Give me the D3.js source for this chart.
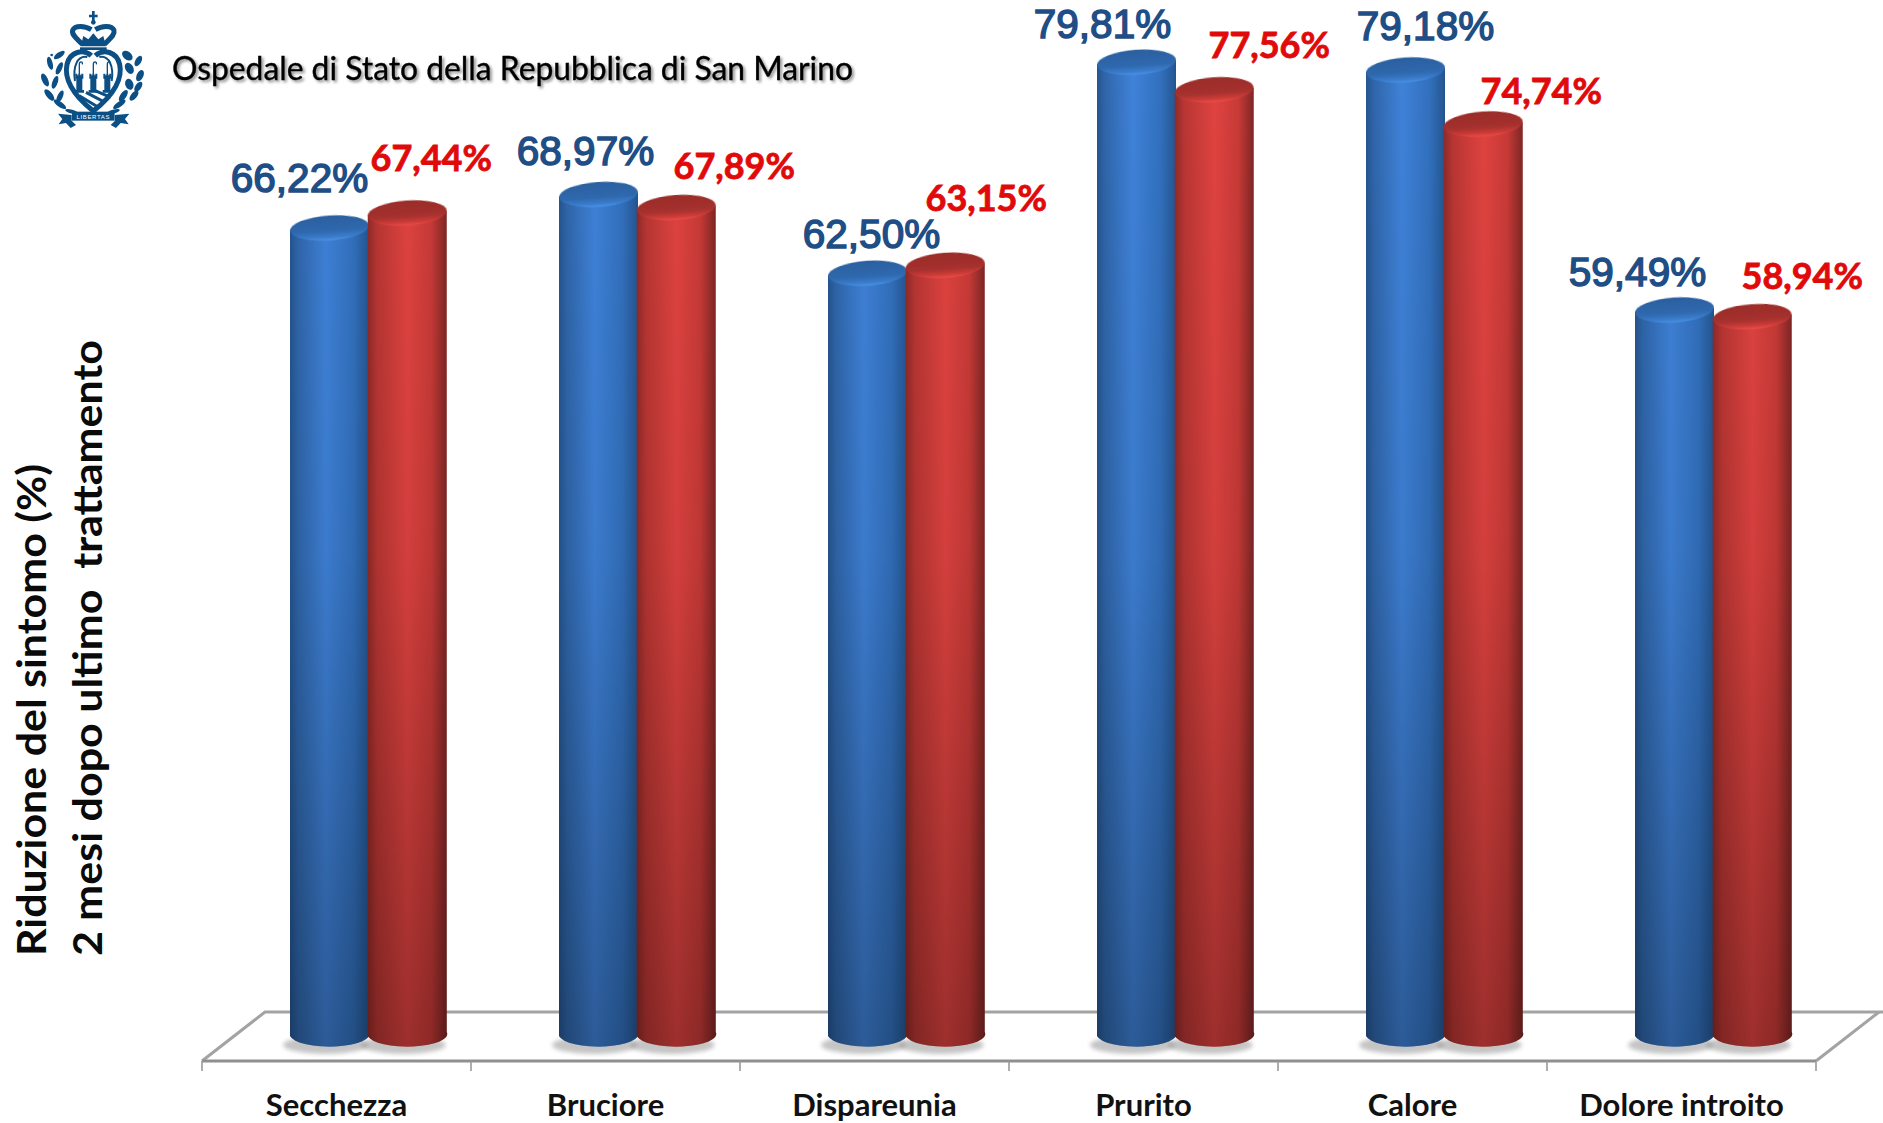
<!DOCTYPE html>
<html><head><meta charset="utf-8">
<script src="https://cdn.jsdelivr.net/npm/d3@7"></script>
<style>html,body{margin:0;background:#fff}svg{display:block}</style>
</head><body><svg id="c" width="1883" height="1123"></svg>
<script>
const categories=["Secchezza","Bruciore","Dispareunia","Prurito","Calore","Dolore introito"];
const seriesNames=["blue","red"];
const blueValues=[66.22,68.97,62.50,79.81,79.18,59.49];
const redValues=[67.44,67.89,63.15,77.56,74.74,58.94];
const blueLabelOffsets=[[-30,-36],[-13,-29],[4,-25],[-34,-24],[20,-30],[-37,-24]];
const redLabelOffsets=[[24,-42],[58,-29],[41,-54],[55,-32],[58,-20],[50,-28]];
const titleText="Ospedale di Stato della Repubblica di San Marino";
const yTitleLines=["Riduzione del sintomo (%)","2 mesi dopo ultimo  trattamento"];
const yTitleLengths=[492,616];

const svg=d3.select("#c");
const defs=svg.append("defs");
const fmt=v=>v.toFixed(2).replace(".",",")+"%";

const x=d3.scaleBand().domain(categories).range([202,1816]);
const xs=d3.scaleBand().domain(seriesNames).range([88,243.5]);
const y=d3.scaleLinear().domain([0,80]).range([1035,60]);
const W=79,RY=12.5;

function grad(id,stops,o){
  const g=defs.append("linearGradient").attr("id",id);
  Object.entries(o).forEach(([k,v])=>g.attr(k,v));
  stops.forEach(s=>g.append("stop").attr("offset",s[0]).attr("stop-color",s[1]).attr("stop-opacity",s[2]===undefined?1:s[2]));
}
const h={x1:0,x2:1,y1:0,y2:0},v={x1:0,x2:0,y1:0,y2:1};
grad("bodyblue",[[0,"#25548f"],[.1,"#2f66aa"],[.45,"#3f82d9"],[.8,"#3270bd"],[.96,"#275a98"],[1,"#23518a"]],h);
grad("bodyred",[[0,"#8f2a28"],[.12,"#b93633"],[.5,"#e04340"],[.8,"#c83a37"],[.95,"#8f2b29"],[1,"#7e2523"]],h);
grad("topblue",[[0,"#2b609f"],[.62,"#2f68ae"],[.86,"#3a7ccb"],[1,"#4a92e6"]],v);
grad("topred",[[0,"#9a2d2b"],[.62,"#a5302d"],[.86,"#cc3c38"],[1,"#ee4c47"]],v);
defs.append("linearGradient").attr("id","depth").attr("gradientUnits","userSpaceOnUse")
  .attr("x1",0).attr("x2",0).attr("y1",60).attr("y2",1047)
  .selectAll("stop").data([[0,0],[.5,.06],[1,.3]]).join("stop")
  .attr("offset",d=>d[0]).attr("stop-color","#000").attr("stop-opacity",d=>d[1]);
defs.append("filter").attr("id","blur").attr("x","-30%").attr("y","-100%").attr("width","160%").attr("height","300%")
  .append("feGaussianBlur").attr("stdDeviation",2.2);
defs.append("filter").attr("id","soft").append("feGaussianBlur").attr("stdDeviation",.45);

/* floor */
const floor=svg.append("g").attr("fill","none").attr("stroke","#a3a3a3").attr("stroke-width",3);
const xL=x.range()[0],xR=x.range()[1],yF=1061,yB=1012,dep=63;
floor.append("path").attr("d",`M${xL},${yF}L${xL+dep},${yB}H${1883}`);
floor.append("path").attr("d",`M${xR},${yF}L${xR+dep},${yB}`);
floor.append("path").attr("d",`M${xL},${yF}H${xR}`).attr("stroke","#8f8f8f");
floor.selectAll("line.t").data(categories.concat("__end")).join("line").attr("class","t")
  .attr("x1",(d,i)=>xL+i*x.bandwidth()).attr("x2",(d,i)=>xL+i*x.bandwidth())
  .attr("y1",yF).attr("y2",yF+10).attr("stroke-width",1.6).attr("stroke","#9a9a9a");

/* cylinders */
const rows=[];
categories.forEach((c,i)=>{rows.push({c,i,s:"blue",v:blueValues[i],o:blueLabelOffsets[i]});});
categories.forEach((c,i)=>{rows.push({c,i,s:"red",v:redValues[i],o:redLabelOffsets[i]});});
rows.sort((a,b)=>a.i-b.i||(a.s==="blue"?-1:1));
const gb=svg.append("g");
const cyl=gb.selectAll("g").data(rows).join("g")
  .attr("transform",d=>`translate(${x(d.c)+xs(d.s)},0)`);
cyl.append("ellipse").attr("cx",W/2-4).attr("cy",1045).attr("rx",W/2+3).attr("ry",9).attr("fill","#8a8a8a").attr("opacity",.5).attr("filter","url(#blur)");
const bodyPath=d=>`M0,${y(d.v)+2}V${y(0)+1}A${W/2},${RY} 0 0 0 ${W},${y(0)-3}V${y(d.v)-2}Z`;
cyl.append("path").attr("d",bodyPath).attr("fill",d=>`url(#body${d.s})`);
cyl.append("path").attr("d",bodyPath).attr("fill","url(#depth)");
cyl.append("ellipse").attr("cx",W/2).attr("cy",d=>y(d.v)).attr("rx",W/2).attr("ry",RY)
  .attr("transform",d=>`rotate(-4 ${W/2} ${y(d.v)})`)
  .attr("fill",d=>`url(#top${d.s})`).attr("filter","url(#soft)");

/* value labels */
svg.append("g").selectAll("text").data(rows).join("text")
  .attr("x",d=>x(d.c)+xs(d.s)+W/2+d.o[0]).attr("y",d=>y(d.v)+d.o[1])
  .attr("text-anchor","middle")
  .attr("font-family",d=>d.s==="blue"?"'Liberation Sans',Arial,sans-serif":"Lato,sans-serif")
  .attr("font-weight",d=>d.s==="blue"?400:700)
  .attr("font-size",d=>d.s==="blue"?40.5:36)
  .attr("fill",d=>d.s==="blue"?"#1f4e86":"#e00a0a")
  .attr("stroke",d=>d.s==="blue"?"#1f4e86":"#e00a0a").attr("stroke-width",d=>d.s==="blue"?1.5:.8)
  .text(d=>fmt(d.v));

/* category axis */
const ax=svg.append("g").attr("transform",`translate(0,${yF})`)
  .call(d3.axisBottom(x).tickSize(0).tickPadding(33));
ax.select(".domain").remove();
ax.selectAll("text").attr("font-family","Lato,sans-serif").attr("font-weight",700).attr("font-size",31).attr("fill","#111");

/* y title */
svg.append("g").selectAll("text").data(yTitleLines).join("text")
  .attr("transform",(d,i)=>`translate(${46+i*56},956) rotate(-90)`)
  .style("white-space","pre")
  .attr("font-family","Lato,sans-serif").attr("font-weight",700).attr("font-size",40).attr("fill","#0a0a0a")
  .attr("textLength",(d,i)=>yTitleLengths[i]).attr("lengthAdjust","spacingAndGlyphs")
  .text(d=>d);

/* header */
svg.append("text").attr("x",172).attr("y",80)
  .attr("font-family","Lato,sans-serif").attr("font-size",32).attr("fill","#000")
  .attr("stroke","#000").attr("stroke-width",.35)
  .attr("textLength",681).attr("lengthAdjust","spacingAndGlyphs")
  .style("filter","drop-shadow(2px 2px 1.5px rgba(0,0,0,.45))").text(titleText);

/* emblem */
const L="#0b4f85";
const e=svg.append("g").attr("transform","translate(30,5) scale(.3333)").attr("fill",L);
e.append("path").attr("d","M186,18h8v11h9v8h-9v12h-8v-12h-9v-8h9z");
e.append("circle").attr("cx",190).attr("cy",52).attr("r",7);
e.append("path").attr("fill","none").attr("stroke",L).attr("stroke-width",15)
  .attr("d","M184,74C165,62 135,60 128,76C124,90 142,102 157,118M196,74C215,62 245,60 252,76C256,90 238,102 223,118");
e.append("path").attr("d","M190,85L205,103L220,93L228,124H152L160,93L175,103Z");
e.append("rect").attr("x",150).attr("y",127).attr("width",80).attr("height",8);
e.append("path").attr("fill","none").attr("stroke",L).attr("stroke-width",15)
  .attr("d","M184,152C160,130 120,140 111,178C102,218 125,268 190,318C255,268 278,218 269,178C260,140 220,130 196,152");
e.append("path").attr("fill","none").attr("stroke",L).attr("stroke-width",6)
  .attr("d","M172,156C142,150 128,185 135,228M208,156C238,150 252,185 245,228");
[148,190,232].forEach(t=>{
  e.append("path").attr("d",`M${t-12},206h6v5h3v-5h6v5h3v-5h6v15h-3v34h5v8h-28v-8h5v-34h-3z`);
  e.append("path").attr("fill","none").attr("stroke",L).attr("stroke-width",4)
    .attr("d",`M${t},208V178C${t},168 ${t+11},168 ${t+9},178`);
});
e.append("path").attr("fill","none").attr("stroke",L).attr("stroke-width",9)
  .attr("d","M148,272L205,307M168,262L225,292M190,255L242,277");
const leaf=(cx,cy,rx,ry,r)=>e.append("ellipse").attr("cx",cx).attr("cy",cy).attr("rx",rx).attr("ry",ry).attr("transform",`rotate(${r} ${cx} ${cy})`);
[[88,150,19,8,-35],[60,175,20,8,75],[88,190,20,8,-65],[45,225,21,9,65],[75,232,20,8,-70],[58,270,21,9,50],[90,275,20,8,-65],[90,298,22,8,35],[125,320,20,6,15],[65,150,4,4,0]]
  .forEach(a=>leaf(...a));
[[292,152,18,12,40],[325,168,17,9,-60],[298,190,18,12,60],[330,212,18,10,-65],[298,238,17,12,70],[325,245,17,9,-55],[280,272,20,9,-55],[312,272,18,9,-50],[268,298,22,8,-35],[250,320,20,6,-15]]
  .forEach(a=>leaf(...a));
e.append("path").attr("d","M125,330L84,326L97,342L86,358L108,354L122,369L138,360L128,350L125,347Z");
e.append("path").attr("d","M255,330L298,326L285,342L296,358L272,354L258,369L242,360L252,350L255,347Z");
e.append("rect").attr("x",126).attr("y",320).attr("width",128).attr("height",27);
e.append("text").attr("x",190).attr("y",341).attr("text-anchor","middle").attr("fill","#fff")
  .attr("font-family","'Liberation Sans',sans-serif").attr("font-size",18).attr("letter-spacing",2).text("LIBERTAS");
</script></body></html>
